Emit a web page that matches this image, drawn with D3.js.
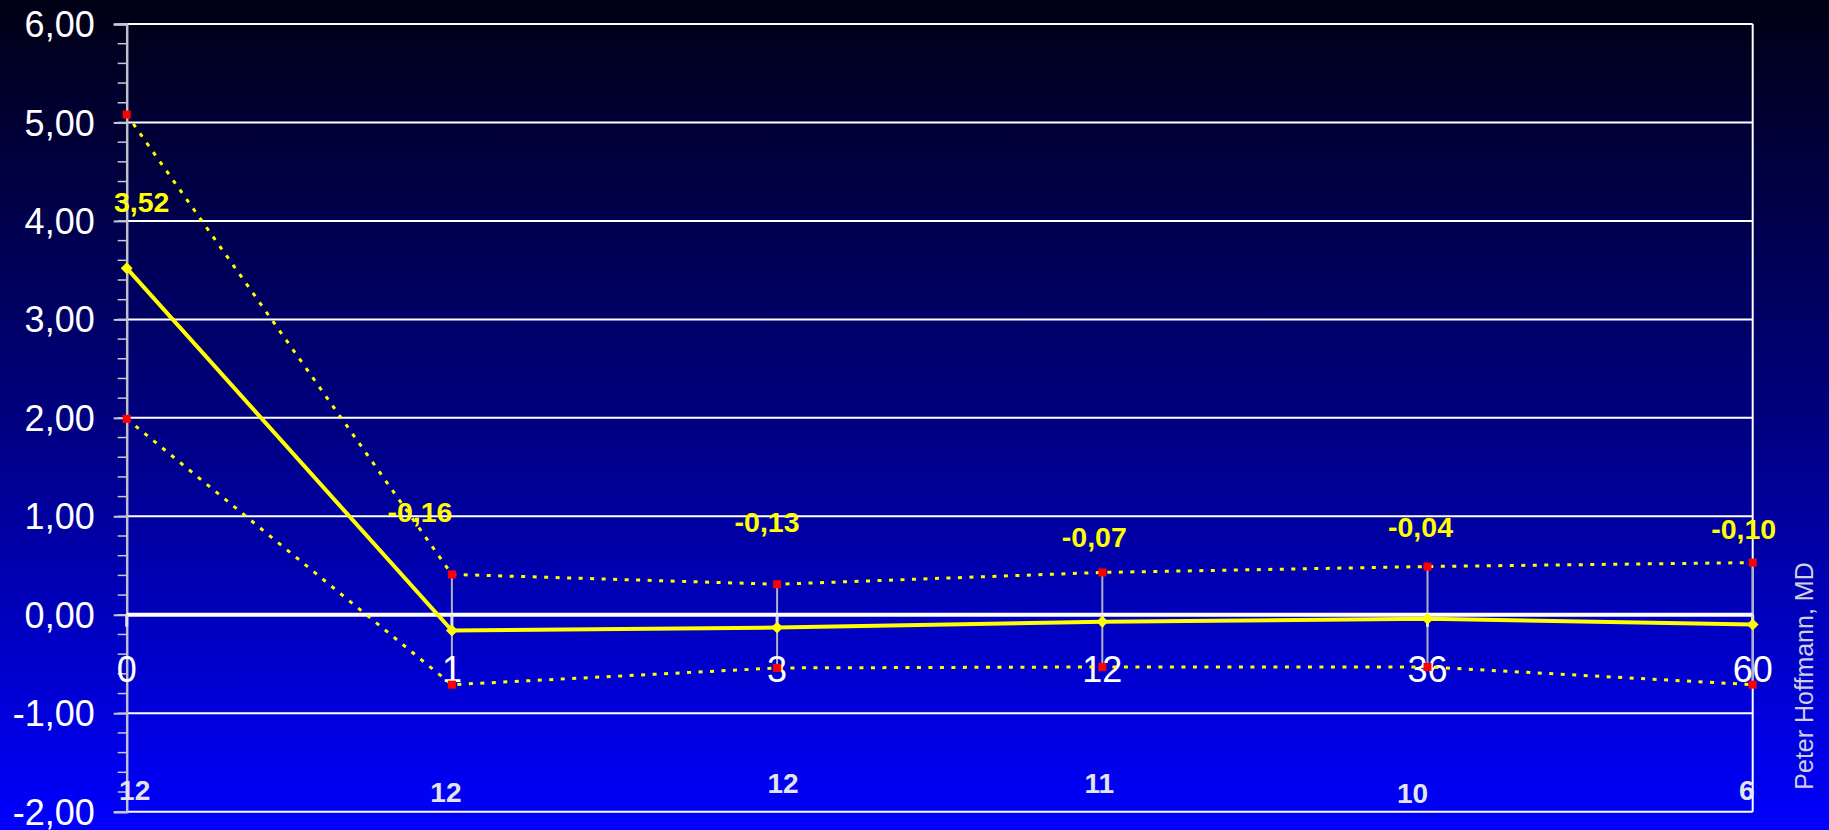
<!DOCTYPE html>
<html>
<head>
<meta charset="utf-8">
<script src="https://cdn.jsdelivr.net/npm/d3@7/dist/d3.min.js"></script>
<style>
  html, body { margin: 0; padding: 0; background: #000; }
  svg { display: block; }
</style>
</head>
<body>
<svg id="chart" width="1829" height="830"></svg>
<script>
// ---- data ----
const months = ["0", "1", "3", "12", "36", "60"];
const meanValues = [3.52, -0.16, -0.13, -0.07, -0.04, -0.10];
const meanLabels = ["3,52", "-0,16", "-0,13", "-0,07", "-0,04", "-0,10"];
const upperCI = [5.08, 0.41, 0.31, 0.43, 0.49, 0.53];
const lowerCI = [1.99, -0.71, -0.54, -0.53, -0.53, -0.71];
const nPatients = ["12", "12", "12", "11", "10", "6"];
const yTicks = [-2, -1, 0, 1, 2, 3, 4, 5, 6];
const yTickLabels = ["-2,00", "-1,00", "0,00", "1,00", "2,00", "3,00", "4,00", "5,00", "6,00"];
const author = "Peter Hoffmann, MD";

// ---- layout (label nudges, px) ----
const meanLabelDx = [15, -32, -10, -8, -7, -9];
const meanLabelDy = [-56, -109, -96, -75, -82, -86];
const nLabelDx = [8, -6, 6, -3, -15, -6];
const nLabelBaseline = [800, 802, 793, 793, 803, 800];

const W = 1829, H = 830;
const plotLeft = 126.7, plotRight = 1752.7, plotTop = 24, plotBottom = 811.7;

const svg = d3.select("#chart");
const defs = svg.append("defs");
const grad = defs.append("linearGradient").attr("id", "bg")
  .attr("x1", 0).attr("y1", 0).attr("x2", 0).attr("y2", 1);
grad.append("stop").attr("offset", "0%").attr("stop-color", "#000014");
grad.append("stop").attr("offset", "50%").attr("stop-color", "#00007e");
grad.append("stop").attr("offset", "100%").attr("stop-color", "#0000ff");
svg.append("rect").attr("width", W).attr("height", H).attr("fill", "url(#bg)");

const x = d3.scalePoint().domain(months).range([plotLeft, plotRight]);
const y = d3.scaleLinear().domain([-2, 6]).range([plotBottom, plotTop]);

const font = "'Liberation Sans', Arial, Helvetica, sans-serif";

// gridlines
svg.append("g").selectAll("line").data(yTicks.filter(d => d !== 0)).join("line")
  .attr("x1", plotLeft).attr("x2", plotRight)
  .attr("y1", d => y(d)).attr("y2", d => y(d))
  .attr("stroke", "#ffffff").attr("stroke-width", 2);

// right border
svg.append("line").attr("x1", plotRight).attr("x2", plotRight).attr("y1", plotTop).attr("y2", plotBottom)
  .attr("stroke", "#ffffff").attr("stroke-width", 2);

// y axis with major + minor ticks
const minorTicks = d3.range(-2, 6.001, 0.2).map(v => +v.toFixed(1));
svg.append("g").selectAll("line").data(minorTicks).join("line")
  .attr("x1", plotLeft - 9).attr("x2", plotLeft)
  .attr("y1", d => y(d)).attr("y2", d => y(d))
  .attr("stroke", "#c8c8d8").attr("stroke-width", 1.5);

const yAxis = d3.axisLeft(y).tickValues(yTicks).tickSize(13)
  .tickFormat((d, i) => yTickLabels[i]);
const gy = svg.append("g").attr("transform", `translate(${plotLeft},0)`).call(yAxis);
gy.select(".domain").attr("stroke", "#c0c0cc").attr("stroke-width", 2.5);
gy.selectAll(".tick line").attr("stroke", "#c8c8d8").attr("stroke-width", 2);
gy.selectAll(".tick text")
  .attr("x", -32).attr("dy", "0.35em")
  .attr("fill", "#ffffff").attr("font-family", font).attr("font-size", 36);

// error bars
svg.append("g").selectAll("line").data(months.slice(1)).join("line")
  .attr("x1", d => x(d)).attr("x2", d => x(d))
  .attr("y1", (d, i) => y(upperCI[i + 1])).attr("y2", (d, i) => y(lowerCI[i + 1]))
  .attr("stroke", "#b0b0c0").attr("stroke-width", 2);

// x axis (zero line) + ticks + labels
svg.append("line").attr("x1", plotLeft).attr("x2", plotRight).attr("y1", y(0)).attr("y2", y(0))
  .attr("stroke", "#ffffff").attr("stroke-width", 4);
svg.append("g").selectAll("line").data(months).join("line")
  .attr("x1", d => x(d)).attr("x2", d => x(d))
  .attr("y1", y(0)).attr("y2", y(0) + 12)
  .attr("stroke", "#e0e0ec").attr("stroke-width", 3);
svg.append("g").selectAll("text").data(months).join("text")
  .attr("x", d => x(d)).attr("y", y(0) + 67)
  .attr("text-anchor", "middle")
  .attr("fill", "#ffffff").attr("font-family", font).attr("font-size", 36)
  .text(d => d);

// CI dotted lines
const lineGen = arr => d3.line().x((d, i) => x(months[i])).y(d => y(d))(arr);
[upperCI, lowerCI].forEach(arr => {
  svg.append("path").attr("d", lineGen(arr))
    .attr("fill", "none").attr("stroke", "#ffff00").attr("stroke-width", 3)
    .attr("stroke-dasharray", "4 7.5");
});

// mean line
svg.append("path").attr("d", lineGen(meanValues))
  .attr("fill", "none").attr("stroke", "#ffff00").attr("stroke-width", 4)
  .attr("stroke-linejoin", "round");
svg.append("g").selectAll("path").data(meanValues).join("path")
  .attr("transform", (d, i) => `translate(${x(months[i])},${y(d)})`)
  .attr("d", d3.symbol().type(d3.symbolDiamond2).size(90)())
  .attr("fill", "#ffff00");

// red CI markers
svg.append("g").selectAll("rect").data(upperCI.concat(lowerCI)).join("rect")
  .attr("x", (d, i) => x(months[i % months.length]) - 4)
  .attr("y", d => y(d) - 4)
  .attr("width", 8).attr("height", 8)
  .attr("fill", "#ff0000");

// mean value labels
svg.append("g").selectAll("text").data(meanValues).join("text")
  .attr("x", (d, i) => x(months[i]) + meanLabelDx[i])
  .attr("y", (d, i) => y(d) + meanLabelDy[i])
  .attr("text-anchor", "middle")
  .attr("fill", "#ffff00").attr("font-family", font).attr("font-weight", "bold")
  .attr("font-size", 28.5)
  .text((d, i) => meanLabels[i]);

// n labels
svg.append("g").selectAll("text").data(nPatients).join("text")
  .attr("x", (d, i) => x(months[i]) + nLabelDx[i])
  .attr("y", (d, i) => nLabelBaseline[i])
  .attr("text-anchor", "middle")
  .attr("fill", "#e4e4ec").attr("font-family", font).attr("font-weight", "bold")
  .attr("font-size", 28)
  .text(d => d);

// author
svg.append("text")
  .attr("transform", `translate(${1813},${676}) rotate(-90)`)
  .attr("text-anchor", "middle")
  .attr("fill", "#d0d0e0").attr("font-family", font).attr("font-size", 25)
  .text(author);
</script>
</body>
</html>
